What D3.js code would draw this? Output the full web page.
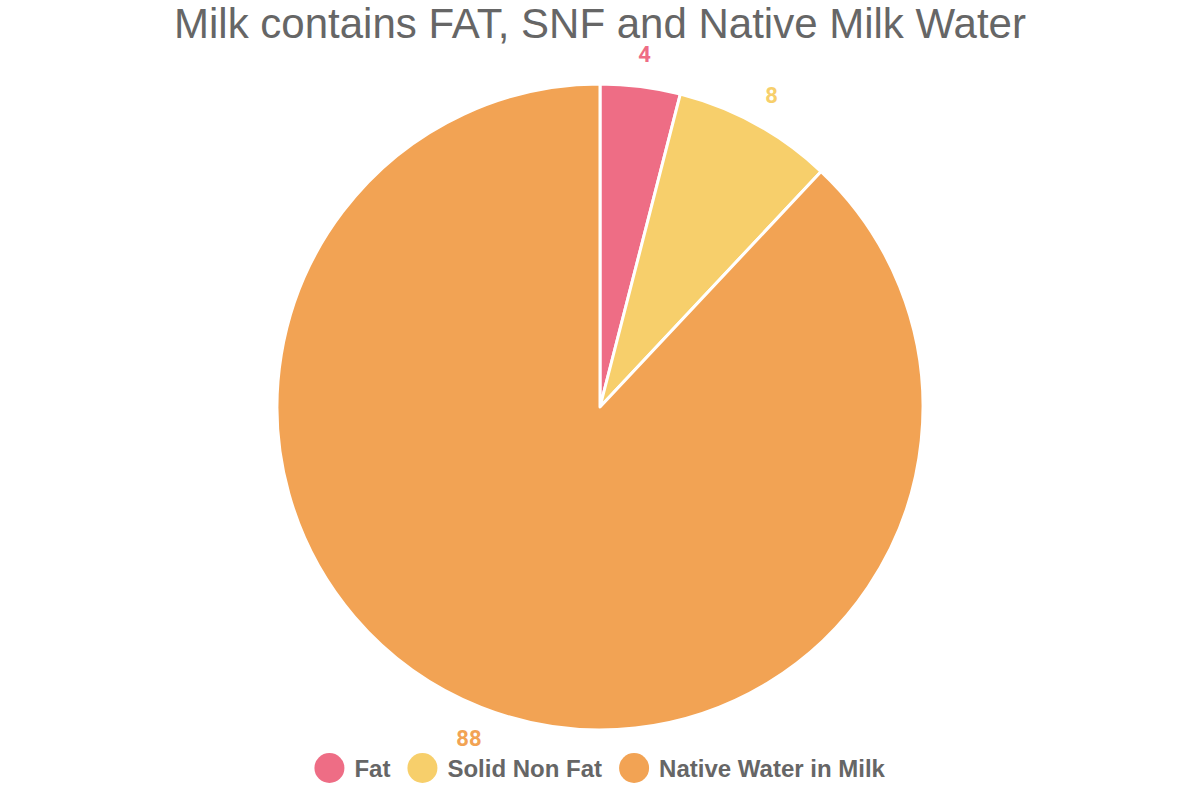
<!DOCTYPE html>
<html>
<head>
<meta charset="utf-8">
<script src="https://d3js.org/d3.v7.min.js"></script>
<style>
	body { margin: 0; background: #fff; }
	svg { display: block; }
</style>
</head>
<body>
<svg id="chart" width="1200" height="800"></svg>
<script>
var title = "Milk contains FAT, SNF and Native Milk Water"
var categories = ["Fat", "Solid Non Fat", "Native Water in Milk"]
var values = [4, 8, 88]
var colors = ["#ee6d85", "#f7cf6b", "#f2a354"]

var width = 1200
var height = 800
var cx = 600
var cy = 407
var radius = 323
var labelRadius = 356

var svg = d3.select("#chart")

svg.append("text")
	.attr("x", width / 2)
	.attr("y", 38)
	.attr("text-anchor", "middle")
	.attr("font-family", "Liberation Sans, Arial, sans-serif")
	.attr("font-size", 42)
	.attr("fill", "#666")
	.text(title)

var data = categories.map((c, i) => ({ name: c, value: values[i], color: colors[i] }))

var pie = d3.pie().sort(null).value(d => d.value)
var arc = d3.arc().innerRadius(0).outerRadius(radius)
var labelArc = d3.arc().innerRadius(labelRadius).outerRadius(labelRadius)

var g = svg.append("g").attr("transform", "translate(" + cx + "," + cy + ")")
var arcs = pie(data)

g.selectAll("path")
	.data(arcs)
	.enter()
	.append("path")
	.attr("d", arc)
	.attr("fill", d => d.data.color)
	.attr("stroke", "#fff")
	.attr("stroke-width", 3)
	.attr("stroke-linejoin", "round")

g.selectAll("text.label")
	.data(arcs)
	.enter()
	.append("text")
	.attr("class", "label")
	.attr("transform", d => "translate(" + labelArc.centroid(d) + ")")
	.attr("text-anchor", "middle")
	.attr("dy", "0.35em")
	.attr("font-family", "Roboto, Liberation Sans, sans-serif")
	.attr("font-weight", "bold")
	.attr("font-size", 22)
	.attr("fill", d => d.data.color)
	.text(d => d.data.value)

// legend, centred below the pie
var legend = svg.append("g").attr("transform", "translate(0,768)")
var items = legend.selectAll("g")
	.data(data)
	.enter()
	.append("g")

items.append("circle")
	.attr("r", 15)
	.attr("fill", d => d.color)

items.append("text")
	.attr("x", 25)
	.attr("dominant-baseline", "central")
	.attr("font-family", "Liberation Sans, Arial, sans-serif")
	.attr("font-weight", "bold")
	.attr("font-size", 24)
	.attr("fill", "#666")
	.text(d => d.name)

var offsets = []
var total = 0
items.each(function() {
	var w = this.getBBox().width
	offsets.push(total)
	total += w + 17
})
total -= 17
var start = (width - total) / 2 + 15
items.attr("transform", (d, i) => "translate(" + (start + offsets[i]) + ",0)")
</script>
</body>
</html>
